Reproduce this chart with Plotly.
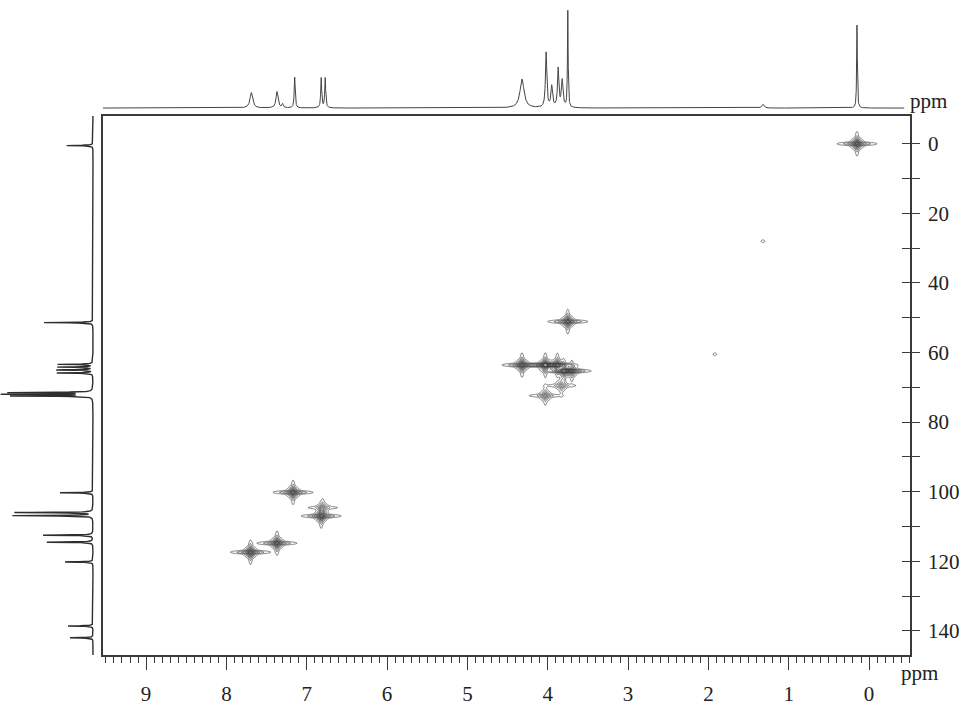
import numpy as np
import plotly.graph_objects as go

W, H = 961, 706

# ---------------- data ----------------
# 1H projection (top trace): shift (ppm), relative intensity, half-width (ppm)
h1_ppm = [7.69, 7.37, 7.30, 7.15, 6.82, 6.77, 4.32, 4.02, 3.95, 3.87, 3.82, 3.75, 1.32, 0.15]
h1_int = [16, 17, 4, 32, 31, 31, 30, 57, 22, 40, 28, 100, 4, 86]
h1_lw = [0.02, 0.015, 0.01, 0.007, 0.007, 0.007, 0.03, 0.01, 0.012, 0.01, 0.012, 0.005, 0.015, 0.005]

# 13C projection (left trace): shift (ppm), relative intensity
c13_ppm = [0.5, 51.4, 63.4, 64.2, 65.0, 65.9, 71.5, 72.0, 72.5, 100.3, 106.0, 106.9,
           112.5, 114.5, 120.2, 138.6, 142.0]
c13_int = [28, 49, 35, 35, 36, 38, 88, 88, 85, 35, 78, 85, 53, 49, 28, 25, 23]

# HSQC cross peaks: 1H shift, 13C shift, relative intensity
xp_h = [0.15, 3.75, 4.32, 4.03, 3.88, 3.80, 3.70, 4.03, 3.83, 7.17, 6.82, 6.80, 7.37, 7.70, 1.32, 1.92]
xp_c = [0.0, 51.1, 63.6, 63.6, 63.6, 65.3, 65.3, 72.4, 69.5, 100.2, 107.0, 104.6, 114.8, 117.4, 28.0, 60.5]
xp_i = [1.0, 1.0, 1.0, 1.0, 0.9, 0.9, 0.7, 0.55, 0.45, 1.0, 1.0, 0.45, 1.0, 1.0, 0.065, 0.065]

# axis ticks
c_tickvals = list(range(0, 150, 10))
c_ticktext = [str(v) if v % 20 == 0 else "" for v in c_tickvals]

# ---------------- geometry ----------------
px_left, px_right = 102.7, 910.0
px_top, px_bottom = 117.3, 662.7
x_range = [9.54, -0.51]
y_range = [147.0, -8.0]

FONT = "Liberation Serif"
INK = "#3a3a3a"

fig = go.Figure()

# ---- top 1H projection ----
xs = np.arange(9.54, -0.44, -0.002)
spec = np.zeros_like(xs)
for p, a, w in zip(h1_ppm, h1_int, h1_lw):
    spec += a * w * w / ((xs - p) ** 2 + w * w)
fig.add_trace(go.Scatter(x=np.round(xs, 4), y=np.round(spec, 2), mode="lines",
                         line=dict(color="#444", width=1), xaxis="x", yaxis="y2",
                         hoverinfo="skip"))

# ---- left 13C projection ----
ys = np.arange(-8.0, 147.0, 0.04)
cspec = np.zeros_like(ys)
wc = 0.08
for p, a in zip(c13_ppm, c13_int):
    cspec += a * wc * wc / ((ys - p) ** 2 + wc * wc)
fig.add_trace(go.Scatter(x=np.round(cspec, 2), y=np.round(ys, 3), mode="lines",
                         line=dict(color="#2e2e2e", width=1.4), xaxis="x3", yaxis="y",
                         hoverinfo="skip"))

# ---- HSQC contours (grouped local grids) ----
n = len(xp_h)
parent = list(range(n))


def find(i):
    while parent[i] != i:
        parent[i] = parent[parent[i]]
        i = parent[i]
    return i


for i in range(n):
    for j in range(i + 1, n):
        if abs(xp_h[i] - xp_h[j]) < 0.8 and abs(xp_c[i] - xp_c[j]) < 14:
            parent[find(i)] = find(j)

groups = {}
for i in range(n):
    groups.setdefault(find(i), []).append(i)

sx, sy = 0.06, 1.2
for idx in groups.values():
    hmin = min(xp_h[i] for i in idx) - 0.4
    hmax = max(xp_h[i] for i in idx) + 0.4
    cmin = min(xp_c[i] for i in idx) - 7
    cmax = max(xp_c[i] for i in idx) + 7
    gx = np.arange(hmin, hmax, 0.005)
    gy = np.arange(cmin, cmax, 0.2)
    X, Y = np.meshgrid(gx, gy)
    Z = np.zeros_like(X)
    for i in idx:
        dx = (X - xp_h[i]) / sx
        dy = (Y - xp_c[i]) / sy
        core = np.exp(-(dx ** 2 + dy ** 2))
        harm = 0.55 * np.exp(-(dx / 3.2) ** 2 - (dy / 0.35) ** 2)
        varm = 0.45 * np.exp(-(dx / 0.35) ** 2 - (dy / 2.4) ** 2)
        Z += xp_i[i] * (core + harm + varm)
    fig.add_trace(go.Contour(
        x=np.round(gx, 4), y=np.round(gy, 3), z=np.round(Z, 3),
        contours=dict(start=0.1, end=2.0, size=0.15, coloring="lines"),
        colorscale=[[0, "#2a2a2a"], [1, "#2a2a2a"]], showscale=False,
        line=dict(width=0.6), hoverinfo="skip", xaxis="x", yaxis="y"))

# ---------------- layout ----------------
def fx(px):
    return px / W


def fy(py):
    return (H - py) / H


top_lo, top_hi = 112.0, 3.0  # pixel extent of top projection
base_px, full_px = 109.3, 11.7
scale = (base_px - full_px) / 100.0
y2_lo = -(top_lo - base_px) / scale
y2_hi = 100 + (full_px - top_hi) / scale

fig.update_layout(
    width=W, height=H, margin=dict(l=0, r=0, t=0, b=0),
    paper_bgcolor="white", plot_bgcolor="white", showlegend=False,
    font=dict(family=FONT, size=21, color="#222"),
    xaxis=dict(domain=[fx(px_left), fx(px_right)], range=x_range, anchor="y",
               showline=True, linecolor=INK, linewidth=1.5, mirror=True,
               ticks="outside", ticklen=13, tickwidth=1.2, tickcolor=INK,
               tick0=0, dtick=1, ticklabelstandoff=6,
               minor=dict(ticks="outside", ticklen=6, tickwidth=1, tickcolor=INK,
                          tick0=0, dtick=0.1, showgrid=False),
               showgrid=False, zeroline=False,
               tickfont=dict(family=FONT, size=21, color="#222")),
    yaxis=dict(domain=[fy(px_bottom), fy(px_top)], range=y_range, anchor="x",
               side="right", showline=True, linecolor=INK, linewidth=1.5, mirror=True,
               ticks="outside", ticklen=8, tickwidth=1.2, tickcolor=INK,
               tickvals=c_tickvals, ticktext=c_ticktext, ticklabelstandoff=4,
               showgrid=False, zeroline=False,
               tickfont=dict(family=FONT, size=21, color="#222")),
    yaxis4=dict(overlaying="y", matches="y", side="right", anchor="x",
                ticks="inside", ticklen=8, tickwidth=1.2, tickcolor=INK,
                tickvals=c_tickvals, showticklabels=False, showline=False,
                showgrid=False, zeroline=False),
    yaxis2=dict(domain=[fy(top_lo), fy(top_hi)], range=[y2_lo, y2_hi], anchor="x",
                visible=False, showgrid=False, zeroline=False),
    xaxis3=dict(domain=[0, fx(97)], range=[93, -4], anchor="y",
                visible=False, showgrid=False, zeroline=False),
)

# dummy trace to activate the overlay axis
fig.add_trace(go.Scatter(x=[None], y=[None], xaxis="x", yaxis="y4", showlegend=False,
                         hoverinfo="skip"))

fig.add_annotation(text="ppm", x=fx(908), y=fy(102), xref="paper", yref="paper",
                   xanchor="left", yanchor="middle", showarrow=False,
                   font=dict(family=FONT, size=21, color="#222"))
fig.add_annotation(text="ppm", x=fx(899), y=fy(681), xref="paper", yref="paper",
                   xanchor="left", yanchor="middle", showarrow=False,
                   font=dict(family=FONT, size=21, color="#222"))

fig.write_html("out.html")
